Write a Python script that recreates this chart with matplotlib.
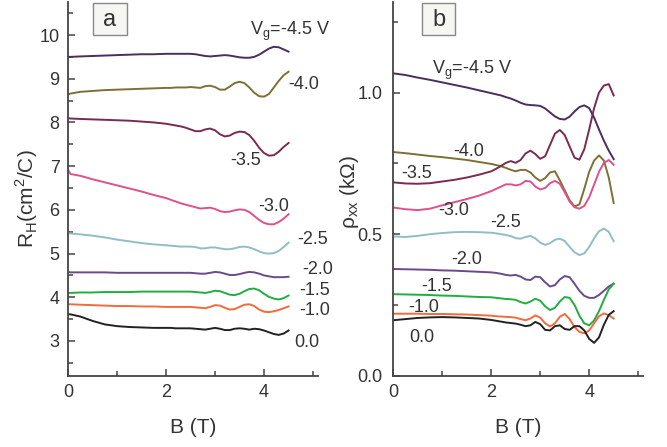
import numpy as np
import matplotlib
matplotlib.use('Agg')
import matplotlib.pyplot as plt
from matplotlib.patches import Rectangle
from matplotlib.ticker import MultipleLocator, FormatStrFormatter

plt.rcParams['font.family'] = ['Liberation Sans', 'DejaVu Sans']
plt.rcParams['mathtext.fontset'] = 'custom'
plt.rcParams['mathtext.rm'] = 'Liberation Sans'

# gate voltages, one curve each, same order in both panels
vg = ['-4.5', '-4.0', '-3.5', '-3.0', '-2.5', '-2.0', '-1.5', '-1.0', '0.0']
colors = ['#4b2d5e', '#7d7035', '#7a2a50', '#e0508a', '#8fbec4',
          '#6b4a8a', '#1fae3f', '#f26b3a', '#222222']

# field values (T)
b_a = [0, 0.05, 0.25, 0.5, 0.75, 1.0, 1.25, 1.5, 1.75, 2.0,
       2.1, 2.2, 2.3, 2.4, 2.5, 2.6, 2.7, 2.8, 2.9, 3.0,
       3.1, 3.2, 3.3, 3.4, 3.5, 3.6, 3.7, 3.8, 3.9, 4.0,
       4.1, 4.2, 4.3, 4.4, 4.5]
b_b = [0, 0.25, 0.5, 0.75, 1.0, 1.25, 1.5, 1.75, 2.0,
       2.1, 2.2, 2.3, 2.4, 2.5, 2.6, 2.7, 2.8, 2.9, 3.0,
       3.1, 3.2, 3.3, 3.4, 3.5, 3.6, 3.7, 3.8, 3.9, 4.0,
       4.1, 4.2, 4.3, 4.4, 4.5]

# Hall coefficient R_H (cm^2/C)
rh_m45 = [9.50, 9.50, 9.51, 9.52, 9.53, 9.54, 9.55, 9.56, 9.56, 9.57,
          9.57, 9.57, 9.57, 9.57, 9.57, 9.56, 9.54, 9.52, 9.51, 9.52,
          9.53, 9.54, 9.53, 9.51, 9.49, 9.48, 9.48, 9.50, 9.55, 9.62,
          9.69, 9.73, 9.72, 9.67, 9.62]
rh_m40 = [8.64, 8.66, 8.70, 8.72, 8.74, 8.75, 8.76, 8.77, 8.78, 8.79,
          8.79, 8.80, 8.80, 8.80, 8.81, 8.80, 8.79, 8.83, 8.84, 8.81,
          8.75, 8.75, 8.82, 8.90, 8.93, 8.90, 8.80, 8.68, 8.60, 8.59,
          8.65, 8.80, 8.95, 9.08, 9.16]
rh_m35 = [8.10, 8.09, 8.08, 8.07, 8.06, 8.05, 8.04, 8.02, 8.00, 7.97,
          7.95, 7.93, 7.91, 7.88, 7.84, 7.80, 7.80, 7.84, 7.86, 7.82,
          7.73, 7.68, 7.70, 7.76, 7.79, 7.78, 7.71, 7.58, 7.42, 7.30,
          7.24, 7.25, 7.33, 7.44, 7.53]
rh_m30 = [6.92, 6.82, 6.78, 6.70, 6.63, 6.56, 6.49, 6.42, 6.34, 6.27,
          6.23, 6.19, 6.15, 6.12, 6.09, 6.06, 6.03, 6.04, 6.05, 6.02,
          5.97, 5.95, 5.96, 5.99, 6.01, 6.00, 5.95, 5.86, 5.77, 5.70,
          5.67, 5.67, 5.72, 5.80, 5.90]
rh_m25 = [5.47, 5.46, 5.44, 5.41, 5.37, 5.32, 5.28, 5.24, 5.21, 5.19,
          5.18, 5.17, 5.16, 5.16, 5.16, 5.15, 5.12, 5.12, 5.14, 5.14,
          5.12, 5.10, 5.10, 5.12, 5.15, 5.16, 5.14, 5.10, 5.05, 5.01,
          5.00, 5.01, 5.06, 5.15, 5.25]
rh_m20 = [4.58, 4.57, 4.57, 4.57, 4.57, 4.56, 4.56, 4.56, 4.56, 4.56,
          4.56, 4.56, 4.56, 4.56, 4.56, 4.55, 4.54, 4.54, 4.56, 4.58,
          4.57, 4.54, 4.51, 4.51, 4.53, 4.56, 4.58, 4.57, 4.54, 4.50,
          4.48, 4.46, 4.46, 4.46, 4.47]
rh_m15 = [4.10, 4.10, 4.11, 4.11, 4.12, 4.12, 4.12, 4.13, 4.13, 4.13,
          4.13, 4.13, 4.13, 4.13, 4.13, 4.12, 4.11, 4.10, 4.12, 4.15,
          4.14, 4.10, 4.06, 4.05, 4.08, 4.14, 4.19, 4.20, 4.16, 4.08,
          4.01, 3.97, 3.95, 3.98, 4.04]
rh_m10 = [3.84, 3.84, 3.83, 3.82, 3.81, 3.80, 3.80, 3.79, 3.79, 3.78,
          3.78, 3.78, 3.78, 3.78, 3.78, 3.77, 3.76, 3.75, 3.78, 3.82,
          3.81, 3.76, 3.72, 3.73, 3.78, 3.83, 3.84, 3.80, 3.72, 3.67,
          3.66, 3.68, 3.71, 3.75, 3.79]
rh_0 = [3.61, 3.61, 3.56, 3.46, 3.38, 3.34, 3.32, 3.31, 3.30, 3.30,
        3.30, 3.29, 3.29, 3.29, 3.29, 3.28, 3.27, 3.26, 3.28, 3.30,
        3.28, 3.25, 3.25, 3.28, 3.29, 3.28, 3.26, 3.28, 3.27, 3.24,
        3.20, 3.16, 3.14, 3.17, 3.24]

# longitudinal resistivity rho_xx (kOhm)
rxx_m45 = [1.068, 1.062, 1.053, 1.045, 1.036, 1.027, 1.018, 1.008, 0.998,
           0.994, 0.990, 0.984, 0.979, 0.972, 0.964, 0.958, 0.956, 0.955, 0.953,
           0.944, 0.930, 0.916, 0.907, 0.905, 0.915, 0.933, 0.949, 0.955, 0.945,
           0.912, 0.870, 0.830, 0.795, 0.765]
rxx_m40 = [0.790, 0.786, 0.781, 0.776, 0.772, 0.767, 0.762, 0.755, 0.748,
           0.744, 0.740, 0.734, 0.727, 0.722, 0.727, 0.727, 0.718, 0.700, 0.688,
           0.698, 0.718, 0.722, 0.690, 0.655, 0.620, 0.598, 0.605, 0.660, 0.720,
           0.760, 0.778, 0.760, 0.700, 0.610]
rxx_m35 = [0.683, 0.679, 0.678, 0.680, 0.686, 0.692, 0.700, 0.710, 0.722,
           0.731, 0.741, 0.752, 0.758, 0.752, 0.762, 0.785, 0.795, 0.783, 0.766,
           0.775, 0.815, 0.855, 0.868, 0.850, 0.810, 0.770, 0.763, 0.800, 0.870,
           0.945, 1.000, 1.025, 1.030, 0.990]
rxx_m30 = [0.594, 0.588, 0.585, 0.590, 0.602, 0.613, 0.624, 0.636, 0.652,
           0.660, 0.668, 0.676, 0.676, 0.672, 0.676, 0.688, 0.686, 0.668, 0.658,
           0.663, 0.680, 0.688, 0.678, 0.648, 0.615, 0.595, 0.590, 0.600, 0.630,
           0.675, 0.720, 0.752, 0.762, 0.745]
rxx_m25 = [0.492, 0.490, 0.494, 0.500, 0.504, 0.507, 0.508, 0.507, 0.505,
           0.503, 0.500, 0.497, 0.493, 0.486, 0.484, 0.490, 0.494, 0.485, 0.470,
           0.462, 0.468, 0.480, 0.484, 0.476, 0.455, 0.436, 0.426, 0.432, 0.455,
           0.485, 0.510, 0.520, 0.508, 0.475]
rxx_m20 = [0.377, 0.376, 0.375, 0.374, 0.372, 0.371, 0.369, 0.367, 0.365,
           0.363, 0.360, 0.356, 0.354, 0.356, 0.350, 0.340, 0.338, 0.350, 0.348,
           0.330, 0.315, 0.320, 0.340, 0.352, 0.348, 0.325, 0.300, 0.282, 0.275,
           0.275, 0.285, 0.300, 0.315, 0.325]
rxx_m15 = [0.288, 0.287, 0.286, 0.285, 0.283, 0.282, 0.280, 0.278, 0.277,
           0.275, 0.273, 0.271, 0.270, 0.268, 0.260, 0.255, 0.262, 0.272, 0.265,
           0.245, 0.232, 0.240, 0.262, 0.278, 0.275, 0.250, 0.212, 0.185, 0.178,
           0.195, 0.228, 0.268, 0.305, 0.325]
rxx_m10 = [0.219, 0.219, 0.219, 0.218, 0.218, 0.217, 0.216, 0.214, 0.212,
           0.210, 0.209, 0.208, 0.207, 0.205, 0.200, 0.196, 0.202, 0.213, 0.205,
           0.185, 0.174, 0.185, 0.208, 0.218, 0.200, 0.172, 0.155, 0.150, 0.160,
           0.185, 0.210, 0.220, 0.214, 0.202]
rxx_0 = [0.196, 0.200, 0.204, 0.206, 0.207, 0.206, 0.204, 0.202, 0.197,
         0.194, 0.191, 0.188, 0.186, 0.184, 0.180, 0.175, 0.178, 0.190, 0.182,
         0.162, 0.160, 0.175, 0.178, 0.165, 0.162, 0.175, 0.175, 0.160, 0.130,
         0.116, 0.135, 0.180, 0.215, 0.228]

rh_all = [rh_m45, rh_m40, rh_m35, rh_m30, rh_m25, rh_m20, rh_m15, rh_m10, rh_0]
rxx_all = [rxx_m45, rxx_m40, rxx_m35, rxx_m30, rxx_m25, rxx_m20, rxx_m15,
           rxx_m10, rxx_0]

# where the gate-voltage labels sit (B, value at text baseline)
lab_a = [(3.71, 9.99), (4.50, 8.76), (3.31, 7.03), (3.88, 5.98), (4.67, 5.22),
         (4.77, 4.53), (4.72, 4.05), (4.72, 3.59), (4.62, 2.87)]
lab_b = [(0.78, 1.066), (1.22, 0.776), (0.16, 0.697), (0.92, 0.568),
         (1.97, 0.524), (1.18, 0.395), (0.57, 0.300), (0.30, 0.226),
         (0.33, 0.120)]

fig = plt.figure(figsize=(6.67, 4.47), dpi=100)
ax_a = fig.add_axes([0.1019, 0.1595, 0.3748, 0.836])
ax_b = fig.add_axes([0.5897, 0.1595, 0.3744, 0.836])

axcol = '#333333'
for ax in (ax_a, ax_b):
    for s in ('top', 'right'):
        ax.spines[s].set_visible(False)
    for s in ('left', 'bottom'):
        ax.spines[s].set_color('#444444')
        ax.spines[s].set_linewidth(1.3)
    ax.tick_params(which='both', direction='in', colors='#444444',
                   labelcolor=axcol, labelsize=13, width=1.1)
    ax.tick_params(which='major', length=5, pad=6)
    ax.tick_params(which='minor', length=3.5)
    ax.set_xlim(0, 5.1)
    ax.xaxis.set_major_locator(MultipleLocator(2))
    ax.xaxis.set_minor_locator(MultipleLocator(1))
    ax.set_xlabel('B (T)', fontsize=15, color=axcol, labelpad=12)

for i, v in enumerate(vg):
    ax_a.plot(b_a, rh_all[i], color=colors[i], lw=1.4)
    ax_b.plot(b_b, rxx_all[i], color=colors[i], lw=1.4)
    txt = 'V$_\\mathregular{g}$=' + v + ' V' if i == 0 else v
    ax_a.text(lab_a[i][0], lab_a[i][1], txt, fontsize=13, color=axcol,
              va='baseline', ha='left')
    ax_b.text(lab_b[i][0], lab_b[i][1], txt, fontsize=13, color=axcol,
              va='baseline', ha='left')

ax_a.set_ylim(2.206, 10.755)
ax_a.yaxis.set_major_locator(MultipleLocator(1))
ax_a.yaxis.set_minor_locator(MultipleLocator(0.5))
ax_a.set_ylabel('R$_\\mathregular{H}$(cm$^\\mathregular{2}$/C)', fontsize=15,
                color=axcol)
ax_a.yaxis.set_label_coords(-0.11, 0.474)

ax_b.set_ylim(0, 1.32)
ax_b.yaxis.set_major_locator(MultipleLocator(0.5))
ax_b.yaxis.set_minor_locator(MultipleLocator(0.25))
ax_b.yaxis.set_major_formatter(FormatStrFormatter('%.1f'))
ax_b.tick_params(axis='y', which='major', pad=8)
ax_b.set_ylabel('ρ$_\\mathregular{xx}$ (kΩ)', fontsize=15, color=axcol)
ax_b.yaxis.set_label_coords(-0.13, 0.49)

# panel tags
for ax, tag, x0, x1 in ((ax_a, 'a', 0.100, 0.236), (ax_b, 'b', 0.115, 0.247)):
    ax.add_patch(Rectangle((x0, 0.912), x1 - x0, 0.085, transform=ax.transAxes,
                           facecolor='#f6f6f3', edgecolor='#888888', lw=1.0,
                           clip_on=False, zorder=3))
    ax.text((x0 + x1) / 2, 0.952, tag, transform=ax.transAxes, fontsize=17,
            color=axcol, ha='center', va='center', zorder=4)

fig.savefig('out.png', dpi=100)
